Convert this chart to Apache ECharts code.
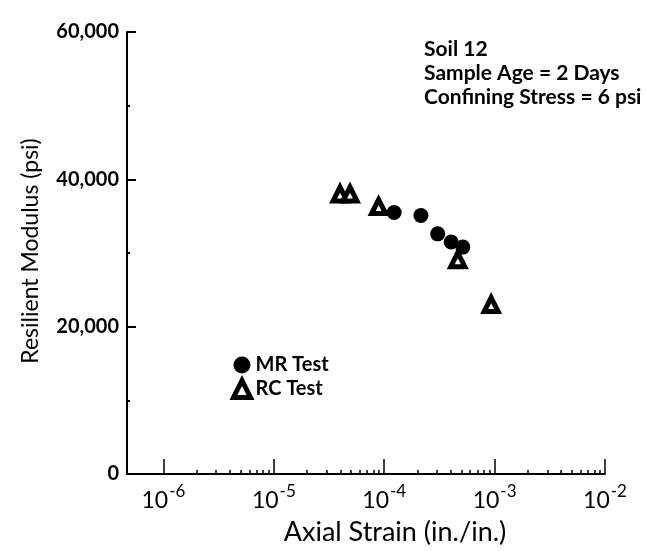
<!DOCTYPE html>
<html style="height: 100%">
  <head>
    <meta charset="UTF-8" />
    <title>Resilient Modulus vs Axial Strain</title>
    <script src="https://cdn.jsdelivr.net/npm/echarts/dist/echarts.min.js"></script>
  </head>
  <body style="height: 100%; margin: 0; background: #fff">
    <div id="main" style="width: 646px; height: 551px"></div>
    <script>
      // values (strain in in./in., modulus in psi)
      var mrStrain = [1.23e-4, 2.15e-4, 3.05e-4, 4.04e-4, 5.15e-4];
      var mrModulus = [35500, 35100, 32600, 31500, 30800];
      var rcStrain = [3.98e-5, 4.9e-5, 8.9e-5, 4.64e-4, 9.3e-4];
      var rcModulus = [38000, 38000, 36300, 29100, 23000];
      var decadeTicks = [-6, -5, -4, -3, -2];
      var notes = ['Soil 12', 'Sample Age = 2 Days', 'Confining Stress = 6 psi'];
      var yTitle = 'Resilient Modulus (psi)';
      var xTitle = 'Axial Strain (in./in.)';

      var FONT = 'Lato';
      var xMin = -6.33;
      var xMax = -2;

      // minor ticks at 2..9 within each decade
      var minorTicks = [];
      for (var d = -6; d < -2; d++) {
        for (var k = 2; k <= 9; k++) {
          minorTicks.push(d + Math.log10(k));
        }
      }

      function toPairs(xs, ys) {
        return xs.map(function (x, i) {
          return [Math.log10(x), ys[i]];
        });
      }

      var chart = echarts.init(document.getElementById('main'));
      var option = {
        backgroundColor: '#fff',
        animation: false,
        title: {
          text: notes.join('\n'),
          left: 419,
          top: 32,
          textStyle: {
            fontFamily: FONT,
            fontWeight: 'bold',
            fontSize: 21,
            lineHeight: 24,
            color: '#000'
          }
        },
        graphic: [
          {
            type: 'text',
            x: 31,
            y: 251,
            rotation: Math.PI / 2,
            style: {
              text: yTitle,
              font: '23px Lato',
              fill: '#000',
              align: 'center',
              verticalAlign: 'middle'
            }
          }
        ],
        legend: {
          orient: 'vertical',
          left: 226,
          top: 350,
          itemGap: 3,
          itemWidth: 17,
          itemHeight: 17,
          textStyle: {
            fontFamily: FONT,
            fontWeight: 'bold',
            fontSize: 20,
            color: '#000'
          },
          data: [
            { name: 'MR Test' },
            { name: 'RC Test', itemStyle: { borderWidth: 5 } }
          ]
        },
        grid: {
          left: 127,
          right: 41,
          top: 32,
          bottom: 76
        },
        xAxis: [
          {
            type: 'value',
            min: xMin,
            max: xMax,
            name: xTitle,
            nameLocation: 'middle',
            nameGap: 45,
            nameTextStyle: {
              fontFamily: FONT,
              fontSize: 27,
              color: '#000',
              padding: [0, 0, 0, 58]
            },
            splitLine: { show: false },
            axisLine: { lineStyle: { color: '#000', width: 2 } },
            axisTick: {
              inside: true,
              length: 15,
              customValues: decadeTicks,
              lineStyle: { color: '#000', width: 1.5 }
            },
            axisLabel: {
              customValues: decadeTicks,
              margin: 9,
              fontFamily: FONT,
              color: '#000',
              formatter: function (v) {
                return '{b|10}{s|' + Math.round(v) + '}';
              },
              rich: {
                b: { fontFamily: FONT, fontSize: 23, color: '#000' },
                s: { fontFamily: FONT, fontSize: 17, color: '#000', padding: [0, 0, 18, 1] }
              }
            }
          },
          {
            type: 'value',
            position: 'bottom',
            min: xMin,
            max: xMax,
            splitLine: { show: false },
            axisLine: { show: false },
            axisLabel: { show: false },
            axisTick: {
              inside: true,
              length: 4,
              customValues: minorTicks,
              lineStyle: { color: '#000', width: 1.5 }
            }
          }
        ],
        yAxis: {
          type: 'value',
          min: 0,
          max: 60000,
          interval: 20000,
          splitLine: { show: false },
          axisLine: { lineStyle: { color: '#000', width: 2 } },
          axisTick: {
            inside: true,
            length: 9,
            lineStyle: { color: '#000', width: 2 }
          },
          minorTick: {
            show: true,
            splitNumber: 2,
            length: 3,
            lineStyle: { color: '#000', width: 2 }
          },
          axisLabel: {
            margin: 8,
            fontFamily: FONT,
            fontWeight: 'bold',
            fontSize: 20,
            color: '#000'
          }
        },
        series: [
          {
            name: 'MR Test',
            type: 'scatter',
            symbol: 'circle',
            symbolSize: 15,
            itemStyle: { color: '#000', opacity: 1 },
            data: toPairs(mrStrain, mrModulus)
          },
          {
            name: 'RC Test',
            type: 'scatter',
            symbol: 'triangle',
            symbolSize: 14,
            itemStyle: { color: '#fff', borderColor: '#000', borderWidth: 5, opacity: 1 },
            data: toPairs(rcStrain, rcModulus)
          }
        ]
      };
      chart.setOption(option);
    </script>
  </body>
</html>
